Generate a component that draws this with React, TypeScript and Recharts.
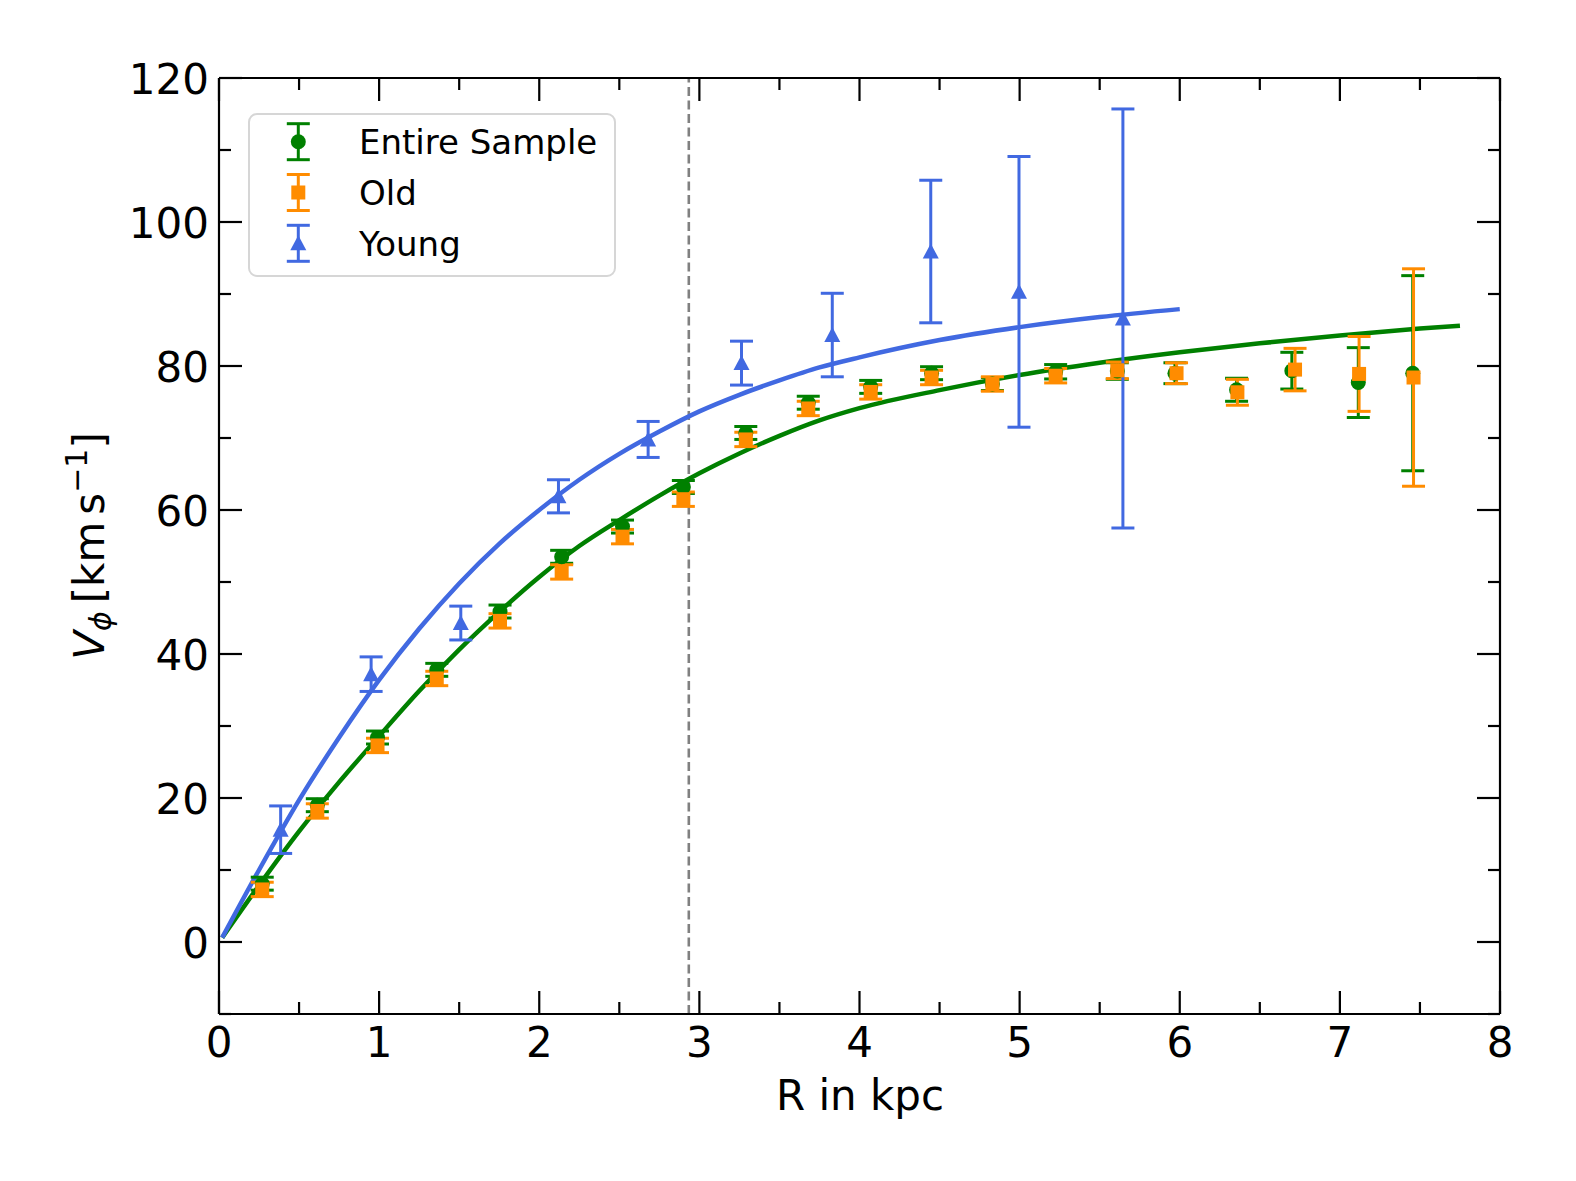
import React from 'react';
import { ComposedChart, Line, Scatter, ErrorBar, XAxis, YAxis, ReferenceLine, Legend } from 'recharts';

const GREEN = '#008000';
const ORANGE = '#ff8c00';
const BLUE = '#4169e1';
const FONT = '"DejaVu Sans", sans-serif';

// measured points (R in kpc, V_phi, symmetric error)
const ENTIRE_R = [0.27, 0.614, 0.99, 1.36, 1.755, 2.14, 2.52, 2.9, 3.29, 3.68, 4.07, 4.45, 4.83, 5.225, 5.61, 5.97, 6.355, 6.7, 7.115, 7.455];
const ENTIRE_V = [8.1, 19.0, 28.4, 37.8, 45.9, 53.5, 57.7, 63.2, 70.7, 74.9, 77.1, 79.0, 77.5, 79.2, 79.3, 79.0, 76.7, 79.35, 77.7, 79.0];
const ENTIRE_ERR = [0.9, 0.9, 0.9, 0.9, 0.9, 0.9, 0.9, 0.9, 0.9, 0.9, 0.9, 0.9, 0.9, 1.0, 1.15, 1.45, 1.6, 2.55, 4.85, 13.55];

const OLD_R = [0.27, 0.614, 0.99, 1.36, 1.755, 2.14, 2.52, 2.9, 3.29, 3.68, 4.07, 4.45, 4.83, 5.225, 5.61, 5.98, 6.36, 6.72, 7.12, 7.46];
const OLD_V = [7.3, 18.2, 27.3, 36.6, 44.6, 51.4, 56.3, 61.5, 69.8, 74.1, 76.4, 78.4, 77.5, 78.65, 79.4, 79.0, 76.35, 79.5, 78.9, 78.4];
const OLD_ERR = [1.0, 1.0, 1.0, 1.0, 1.0, 1.0, 1.0, 1.0, 1.0, 1.0, 1.0, 1.0, 1.0, 1.0, 1.15, 1.45, 1.8, 2.95, 5.2, 15.1];

const YOUNG_R = [0.385, 0.95, 1.51, 2.12, 2.68, 3.263, 3.83, 4.445, 4.996, 5.645];
const YOUNG_V = [15.6, 37.2, 44.3, 61.9, 69.8, 80.4, 84.3, 95.9, 90.3, 86.6];
const YOUNG_ERR = [3.3, 2.4, 2.35, 2.3, 2.5, 3.05, 5.8, 9.9, 18.8, 29.1];

// fitted curves
const ENTIRE_FIT_R = [0.02, 0.25, 0.5, 0.75, 1.0, 1.25, 1.5, 1.75, 2.0, 2.25, 2.5, 2.75, 3.0, 3.25, 3.5, 3.75, 4.0, 4.5, 5.0, 5.5, 6.0, 6.5, 7.0, 7.5, 7.75];
const ENTIRE_FIT_V = [0.6, 7.85, 15.35, 22.2, 28.6, 34.85, 40.6, 45.85, 50.7, 55.0, 58.6, 62.0, 65.1, 67.85, 70.3, 72.45, 74.15, 76.65, 78.75, 80.45, 81.9, 83.15, 84.25, 85.2, 85.6];

const YOUNG_FIT_R = [0.02, 0.25, 0.5, 0.75, 1.0, 1.25, 1.5, 1.75, 2.0, 2.25, 2.5, 2.75, 3.0, 3.25, 3.5, 3.75, 4.0, 4.5, 5.0, 5.5, 6.0];
const YOUNG_FIT_V = [0.6, 10.0, 19.7, 28.4, 36.4, 43.5, 49.8, 55.3, 60.0, 64.2, 67.8, 70.9, 73.7, 76.0, 78.0, 79.8, 81.2, 83.6, 85.4, 86.8, 87.9];

const SPLIT_R = 2.934;

const X_TICKS = [0, 0.5, 1, 1.5, 2, 2.5, 3, 3.5, 4, 4.5, 5, 5.5, 6, 6.5, 7, 7.5, 8];
const Y_TICKS = [-10, 0, 10, 20, 30, 40, 50, 60, 70, 80, 90, 100, 110, 120];

const toPoints = (r: number[], v: number[], e?: number[]) =>
  r.map((x, i) => (e ? { r: x, v: v[i], err: e[i] } : { r: x, v: v[i] }));

const entire = toPoints(ENTIRE_R, ENTIRE_V, ENTIRE_ERR);
const old = toPoints(OLD_R, OLD_V, OLD_ERR);
const young = toPoints(YOUNG_R, YOUNG_V, YOUNG_ERR);
const entireFit = toPoints(ENTIRE_FIT_R, ENTIRE_FIT_V);
const youngFit = toPoints(YOUNG_FIT_R, YOUNG_FIT_V);

const MAJOR = 23;
const MINOR = 12;
const AXIS_W = 2.2;

const BottomTick = (props: any) => {
  const { x, y, payload } = props;
  const major = payload.value % 1 === 0;
  return (
    <g>
      <line x1={x} x2={x} y1={y} y2={y - (major ? MAJOR : MINOR)} stroke="#000" strokeWidth={AXIS_W} />
      {major && (
        <text x={x} y={y + 43} textAnchor="middle" fontFamily={FONT} fontSize={42} fill="#000">
          {payload.value}
        </text>
      )}
    </g>
  );
};

const TopTick = (props: any) => {
  const { x, y, payload } = props;
  const major = payload.value % 1 === 0;
  return <line x1={x} x2={x} y1={y} y2={y + (major ? MAJOR : MINOR)} stroke="#000" strokeWidth={AXIS_W} />;
};

const LeftTick = (props: any) => {
  const { x, y, payload } = props;
  const major = payload.value % 20 === 0;
  return (
    <g>
      <line x1={x} x2={x + (major ? MAJOR : MINOR)} y1={y} y2={y} stroke="#000" strokeWidth={AXIS_W} />
      {major && (
        <text x={x - 10} y={y + 15.5} textAnchor="end" fontFamily={FONT} fontSize={42} fill="#000">
          {payload.value}
        </text>
      )}
    </g>
  );
};

const RightTick = (props: any) => {
  const { x, y, payload } = props;
  const major = payload.value % 20 === 0;
  return <line x1={x} x2={x - (major ? MAJOR : MINOR)} y1={y} y2={y} stroke="#000" strokeWidth={AXIS_W} />;
};

const XLabel = () => (
  <text x={860} y={1110} textAnchor="middle" fontFamily={FONT} fontSize={42} fill="#000">
    R in kpc
  </text>
);

const YLabel = () => (
  <text transform="translate(104,546) rotate(-90)" textAnchor="middle" fontFamily={FONT} fontSize={42} fill="#000">
    <tspan fontStyle="italic">V</tspan>
    <tspan fontStyle="italic" fontSize={30} dy={7}>ϕ</tspan>
    <tspan dy={-7} dx={8}>[km</tspan>
    <tspan dx={7}>s</tspan>
    <tspan fontSize={30} dy={-17}>−1</tspan>
    <tspan dy={17}>]</tspan>
  </text>
);

const Dot = (p: any) => <circle cx={p.cx} cy={p.cy} r={7.5} fill={GREEN} />;
const Square = (p: any) => <rect x={p.cx - 7} y={p.cy - 7} width={14} height={14} fill={ORANGE} />;
const Triangle = (p: any) => (
  <polygon points={`${p.cx},${p.cy - 8} ${p.cx - 8},${p.cy + 7} ${p.cx + 8},${p.cy + 7}`} fill={BLUE} />
);

const LEGEND_ITEMS = [
  { label: 'Entire Sample', color: GREEN, shape: 'circle' },
  { label: 'Old', color: ORANGE, shape: 'square' },
  { label: 'Young', color: BLUE, shape: 'triangle' },
];

const LegendBox = () => (
  <svg width={368} height={164} style={{ display: 'block' }}>
    <rect x={1} y={1} width={366} height={162} rx={8} fill="rgba(255,255,255,0.8)" stroke="#d6d6d6" strokeWidth={2} />
    {LEGEND_ITEMS.map((it, i) => {
      const cy = 28.7 + i * 50.8;
      const cx = 50.3;
      return (
        <g key={it.label}>
          <line x1={cx} x2={cx} y1={cy - 18} y2={cy + 18} stroke={it.color} strokeWidth={3} />
          <line x1={cx - 11.5} x2={cx + 11.5} y1={cy - 18} y2={cy - 18} stroke={it.color} strokeWidth={3} />
          <line x1={cx - 11.5} x2={cx + 11.5} y1={cy + 18} y2={cy + 18} stroke={it.color} strokeWidth={3} />
          {it.shape === 'circle' && <circle cx={cx} cy={cy} r={7.5} fill={it.color} />}
          {it.shape === 'square' && <rect x={cx - 7} y={cy - 7} width={14} height={14} fill={it.color} />}
          {it.shape === 'triangle' && (
            <polygon points={`${cx},${cy - 8} ${cx - 8},${cy + 7} ${cx + 8},${cy + 7}`} fill={it.color} />
          )}
          <text x={111} y={cy + 12.3} fontFamily={FONT} fontSize={34} fill="#000">
            {it.label}
          </text>
        </g>
      );
    })}
  </svg>
);

export default function App() {
  return (
    <div style={{ position: 'absolute', left: 0, top: 0, width: 1576, height: 1181, background: '#fff' }}>
      <ComposedChart width={1576} height={1181} margin={{ top: 77, right: 75, bottom: 0, left: 0 }}>
        <XAxis
          dataKey="r"
          type="number"
          domain={[0, 8]}
          allowDataOverflow
          ticks={X_TICKS}
          interval={0}
          height={167}
          tickSize={0}
          tickMargin={0}
          tickLine={false}
          tick={BottomTick}
          axisLine={{ stroke: '#000', strokeWidth: AXIS_W }}
          label={<XLabel />}
        />
        {/* mirrored frame axes, same scales as the main ones */}
        <XAxis
          xAxisId="top"
          orientation="top"
          dataKey="r"
          type="number"
          domain={[0, 8]}
          allowDataOverflow
          ticks={X_TICKS}
          interval={0}
          height={1}
          tickSize={0}
          tickMargin={0}
          tickLine={false}
          tick={TopTick}
          axisLine={{ stroke: '#000', strokeWidth: AXIS_W }}
        />
        <YAxis
          type="number"
          domain={[-10, 120]}
          allowDataOverflow
          ticks={Y_TICKS}
          interval={0}
          width={219}
          tickSize={0}
          tickMargin={0}
          tickLine={false}
          tick={LeftTick}
          axisLine={{ stroke: '#000', strokeWidth: AXIS_W }}
          label={<YLabel />}
        />
        <YAxis
          yAxisId="right"
          orientation="right"
          type="number"
          domain={[-10, 120]}
          allowDataOverflow
          ticks={Y_TICKS}
          interval={0}
          width={1}
          tickSize={0}
          tickMargin={0}
          tickLine={false}
          tick={RightTick}
          axisLine={{ stroke: '#000', strokeWidth: AXIS_W }}
        />
        <ReferenceLine x={SPLIT_R} stroke="#808080" strokeWidth={2.6} strokeDasharray="9 4.5" />
        <Line
          data={entireFit}
          xAxisId="top"
          yAxisId="right"
          dataKey="v"
          type="monotone"
          stroke={GREEN}
          strokeWidth={4.5}
          dot={false}
          activeDot={false}
          isAnimationActive={false}
        />
        <Line data={youngFit} dataKey="v" type="monotone" stroke={BLUE} strokeWidth={4.5} dot={false} activeDot={false} isAnimationActive={false} />
        <Scatter data={entire} dataKey="v" shape={Dot} isAnimationActive={false}>
          <ErrorBar dataKey="err" direction="y" width={11.5} stroke={GREEN} strokeWidth={3} isAnimationActive={false} />
        </Scatter>
        <Scatter data={old} dataKey="v" shape={Square} isAnimationActive={false}>
          <ErrorBar dataKey="err" direction="y" width={11.5} stroke={ORANGE} strokeWidth={3} isAnimationActive={false} />
        </Scatter>
        <Scatter data={young} dataKey="v" shape={Triangle} isAnimationActive={false}>
          <ErrorBar dataKey="err" direction="y" width={11.5} stroke={BLUE} strokeWidth={3} isAnimationActive={false} />
        </Scatter>
        <Legend
          layout="vertical"
          align="center"
          verticalAlign="middle"
          content={<LegendBox />}
          wrapperStyle={{ left: 248, top: 113, width: 368, height: 164 }}
        />
      </ComposedChart>
    </div>
  );
}
